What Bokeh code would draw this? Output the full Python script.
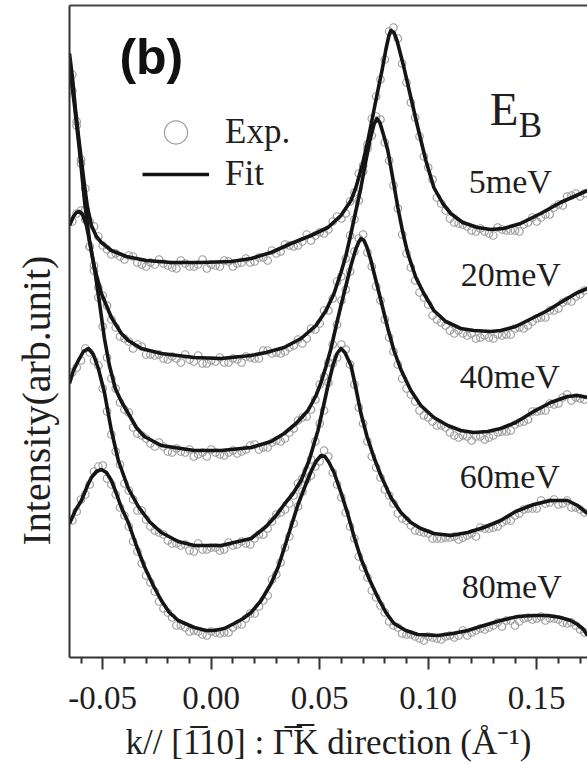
from bokeh.plotting import figure
from bokeh.models import Range1d, LinearAxis, FixedTicker, Label, Legend, LegendItem, Title
from bokeh.embed import file_html
from bokeh.resources import INLINE

# ---------------- data (k in 1/Angstrom, intensity in arb. units, curves already offset) -------------
energies = ["5meV", "20meV", "40meV", "60meV", "80meV"]

k_exp = [-0.064, -0.060, -0.056, -0.052, -0.048, -0.044, -0.040, -0.036, -0.032, -0.028,
         -0.024, -0.020, -0.016, -0.012, -0.008, -0.004, 0.000, 0.004, 0.008, 0.012,
         0.016, 0.020, 0.024, 0.028, 0.032, 0.036, 0.040, 0.044, 0.048, 0.052,
         0.056, 0.060, 0.064, 0.068, 0.072, 0.076, 0.080, 0.084, 0.088, 0.092,
         0.096, 0.100, 0.104, 0.108, 0.112, 0.116, 0.120, 0.124, 0.128, 0.132,
         0.136, 0.140, 0.144, 0.148, 0.152, 0.156, 0.160, 0.164, 0.168, 0.172]
k_exp_b = [-0.062, -0.058, -0.054, -0.050, -0.046, -0.042, -0.038, -0.034, -0.030, -0.026,
           -0.022, -0.018, -0.014, -0.010, -0.006, -0.002, 0.002, 0.006, 0.010, 0.014,
           0.018, 0.022, 0.026, 0.030, 0.034, 0.038, 0.042, 0.046, 0.050, 0.054,
           0.058, 0.062, 0.066, 0.070, 0.074, 0.078, 0.082, 0.086, 0.090, 0.094,
           0.098, 0.102, 0.106, 0.110, 0.114, 0.118, 0.122, 0.126, 0.130, 0.134,
           0.138, 0.142, 0.146, 0.150, 0.154, 0.158, 0.162, 0.166, 0.170]

exp_5 = [583, 498, 436, 421, 408, 404, 398, 401, 393, 395,
         398, 392, 389, 394, 391, 398, 393, 391, 396, 394,
         399, 396, 400, 407, 406, 412, 412, 423, 422, 424,
         436, 439, 456, 484, 513, 561, 598, 630, 594, 555,
         521, 490, 460, 447, 435, 433, 427, 429, 424, 430,
         427, 427, 433, 440, 440, 443, 453, 461, 464, 464]
exp_5_b = [536, 469, 431, 412, 403, 401, 402, 395, 391, 393,
           394, 390, 397, 391, 393, 389, 392, 397, 391, 395,
           395, 400, 397, 404, 413, 411, 416, 417, 425, 428,
           441, 444, 465, 492, 539, 578, 626, 619, 575, 540,
           501, 478, 454, 439, 434, 431, 426, 426, 422, 428,
           427, 426, 435, 436, 443, 450, 452, 462, 461]
exp_20 = [567, 494, 411, 370, 352, 330, 319, 309, 311, 303,
          303, 298, 299, 303, 296, 294, 297, 300, 295, 298,
          301, 299, 307, 304, 304, 310, 318, 319, 328, 347,
          359, 381, 422, 457, 509, 541, 515, 472, 423, 390,
          365, 353, 338, 332, 324, 324, 324, 320, 320, 323,
          323, 329, 329, 336, 340, 347, 349, 357, 361, 367]
exp_20_b = [532, 448, 392, 362, 338, 321, 316, 313, 303, 302,
            299, 301, 295, 298, 302, 294, 296, 295, 299, 295,
            300, 299, 307, 305, 306, 312, 314, 329, 334, 347,
            376, 399, 438, 486, 522, 538, 497, 449, 404, 377,
            360, 342, 335, 327, 327, 322, 319, 322, 319, 322,
            323, 330, 332, 339, 340, 347, 355, 356, 363]
exp_40 = [436, 447, 411, 360, 300, 269, 248, 230, 222, 214,
          215, 206, 209, 205, 201, 205, 208, 203, 205, 204,
          208, 213, 210, 215, 216, 225, 237, 241, 258, 281,
          313, 357, 386, 419, 405, 371, 338, 306, 279, 263,
          247, 240, 232, 230, 222, 222, 217, 221, 220, 225,
          226, 233, 236, 246, 247, 254, 254, 263, 260, 258]
exp_40_b = [444, 438, 387, 331, 279, 255, 245, 224, 219, 211,
            211, 205, 206, 208, 203, 201, 205, 202, 207, 206,
            212, 208, 210, 217, 219, 229, 240, 248, 273, 295,
            333, 368, 406, 423, 391, 357, 320, 293, 269, 256,
            242, 236, 232, 225, 220, 221, 221, 218, 222, 226,
            227, 235, 238, 246, 247, 253, 260, 257, 259]
exp_60 = [285, 297, 305, 292, 246, 206, 174, 158, 147, 131,
          125, 117, 114, 113, 106, 108, 110, 107, 115, 113,
          114, 119, 123, 136, 145, 154, 174, 187, 216, 247,
          294, 313, 293, 250, 216, 190, 168, 154, 139, 132,
          126, 124, 119, 120, 121, 120, 124, 130, 129, 131,
          137, 142, 148, 149, 157, 155, 153, 157, 150, 145]
exp_60_b = [290, 309, 297, 269, 223, 193, 167, 147, 138, 127,
            123, 114, 112, 107, 114, 108, 110, 108, 112, 116,
            113, 123, 129, 143, 148, 162, 179, 198, 234, 275,
            300, 308, 273, 234, 201, 180, 162, 144, 137, 127,
            125, 119, 119, 120, 118, 122, 121, 129, 130, 135,
            137, 144, 149, 149, 154, 158, 154, 150, 148]
exp_80 = [137, 158, 173, 191, 179, 163, 142, 116, 94, 75,
          56, 45, 32, 30, 27, 23, 26, 24, 25, 33,
          39, 44, 57, 78, 95, 121, 151, 178, 191, 207,
          185, 160, 131, 101, 80, 60, 45, 32, 24, 23,
          19, 21, 19, 21, 20, 27, 25, 29, 30, 35,
          37, 32, 39, 38, 41, 39, 38, 34, 32, 25]
exp_80_b = [146, 163, 186, 192, 173, 150, 131, 106, 82, 66,
            49, 40, 32, 26, 26, 22, 25, 25, 30, 33,
            44, 51, 62, 83, 110, 134, 166, 182, 196, 201,
            173, 145, 119, 90, 67, 52, 36, 30, 23, 21,
            17, 20, 18, 22, 22, 22, 27, 28, 32, 31,
            37, 36, 40, 39, 37, 39, 35, 35, 28]

fit_5_k = [-0.0653, -0.0639, -0.0626, -0.0612, -0.0598, -0.0584, -0.0570, -0.0552, -0.0529, -0.0506,
           -0.0460, -0.0391, -0.0299, -0.0184, -0.0046, 0.0092, 0.0184, 0.0276, 0.0368, 0.0460,
           0.0538, 0.0598, 0.0644, 0.0667, 0.0699, 0.0722, 0.0745, 0.0768, 0.0787, 0.0805,
           0.0819, 0.0828, 0.0842, 0.0856, 0.0874, 0.0888, 0.0920, 0.0952, 0.0989, 0.1026,
           0.1067, 0.1104, 0.1159, 0.1228, 0.1288, 0.1348, 0.1426, 0.1518, 0.1610, 0.1734]
fit_5_i = [604, 579, 549, 522, 497, 472, 450, 432, 421, 415,
           407, 401, 397, 395, 395, 396, 399, 405, 414, 422,
           430, 442, 457, 470, 495, 517, 542, 567, 587, 608,
           622, 627, 625, 617, 602, 590, 560, 530, 497, 470,
           454, 444, 435, 430, 428, 429, 434, 444, 455, 467]

fit_20_k = [-0.0653, -0.0630, -0.0607, -0.0584, -0.0561, -0.0538, -0.0506, -0.0460, -0.0414, -0.0382,
            -0.0322, -0.0230, -0.0078, 0.0046, 0.0184, 0.0253, 0.0336, 0.0414, 0.0483, 0.0529,
            0.0566, 0.0598, 0.0621, 0.0644, 0.0667, 0.0690, 0.0713, 0.0731, 0.0750, 0.0764,
            0.0777, 0.0791, 0.0814, 0.0837, 0.0860, 0.0883, 0.0906, 0.0943, 0.0980, 0.1026,
            0.1081, 0.1150, 0.1210, 0.1288, 0.1334, 0.1403, 0.1486, 0.1550, 0.1610, 0.1688, 0.1734]
fit_20_i = [592, 552, 507, 457, 417, 390, 364, 340, 324, 317,
            309, 304, 300, 299, 302, 305, 310, 319, 332, 347,
            364, 385, 402, 424, 447, 470, 497, 517, 533, 539,
            535, 525, 507, 479, 450, 425, 404, 380, 364, 347,
            336, 329, 327, 326, 327, 331, 340, 347, 355, 365, 369]

fit_40_k = [-0.0653, -0.0635, -0.0621, -0.0607, -0.0593, -0.0575, -0.0557, -0.0538, -0.0515, -0.0492,
            -0.0469, -0.0442, -0.0414, -0.0382, -0.0345, -0.0308, -0.0230, -0.0078, 0.0046, 0.0184,
            0.0276, 0.0336, 0.0391, 0.0446, 0.0483, 0.0506, 0.0529, 0.0552, 0.0575, 0.0598,
            0.0621, 0.0644, 0.0667, 0.0681, 0.0690, 0.0704, 0.0718, 0.0736, 0.0759, 0.0782,
            0.0814, 0.0842, 0.0874, 0.0920, 0.0966, 0.1026, 0.1090, 0.1150, 0.1210, 0.1274,
            0.1334, 0.1403, 0.1486, 0.1564, 0.1642, 0.1688, 0.1734]
fit_40_i = [432, 441, 445, 446, 443, 432, 412, 389, 355, 319,
            292, 269, 256, 244, 230, 221, 212, 207, 207, 210,
            216, 224, 234, 247, 262, 275, 291, 309, 331, 352,
            372, 392, 409, 416, 419, 417, 410, 397, 377, 357,
            329, 307, 288, 267, 252, 240, 232, 227, 225, 226,
            229, 235, 246, 255, 261, 262, 260]

fit_60_k = [-0.0653, -0.0635, -0.0612, -0.0589, -0.0566, -0.0543, -0.0520, -0.0492, -0.0460, -0.0428,
            -0.0382, -0.0336, -0.0285, -0.0230, -0.0152, -0.0078, 0.0046, 0.0184, 0.0253, 0.0299,
            0.0336, 0.0377, 0.0414, 0.0451, 0.0492, 0.0515, 0.0538, 0.0561, 0.0580, 0.0598,
            0.0616, 0.0644, 0.0667, 0.0690, 0.0718, 0.0750, 0.0782, 0.0828, 0.0874, 0.0920,
            0.0966, 0.1026, 0.1104, 0.1182, 0.1256, 0.1334, 0.1403, 0.1486, 0.1564, 0.1642,
            0.1688, 0.1734]
fit_60_i = [274, 287, 297, 306, 309, 303, 289, 265, 227, 197,
            169, 151, 136, 125, 116, 112, 112, 119, 131, 142,
            153, 164, 177, 197, 227, 249, 272, 292, 304, 309,
            305, 292, 269, 244, 221, 200, 182, 160, 145, 135,
            129, 124, 122, 125, 130, 137, 146, 153, 157, 157,
            152, 144]

fit_80_k = [-0.0653, -0.0626, -0.0598, -0.0570, -0.0552, -0.0529, -0.0506, -0.0483, -0.0460, -0.0437,
            -0.0414, -0.0382, -0.0345, -0.0308, -0.0267, -0.0230, -0.0193, -0.0152, -0.0078, -0.0023,
            0.0014, 0.0060, 0.0106, 0.0147, 0.0184, 0.0230, 0.0276, 0.0308, 0.0336, 0.0368,
            0.0400, 0.0432, 0.0460, 0.0483, 0.0506, 0.0524, 0.0543, 0.0566, 0.0598, 0.0630,
            0.0658, 0.0690, 0.0727, 0.0768, 0.0805, 0.0842, 0.0897, 0.0952, 0.1044, 0.1113,
            0.1182, 0.1256, 0.1334, 0.1412, 0.1486, 0.1550, 0.1610, 0.1656, 0.1688, 0.1716, 0.1734]
fit_80_i = [134, 147, 157, 172, 180, 186, 188, 185, 177, 164,
            150, 135, 112, 91, 72, 57, 45, 37, 30, 27,
            27, 29, 34, 39, 45, 57, 74, 90, 109, 131,
            153, 171, 186, 196, 202, 201, 195, 185, 165, 143,
            121, 99, 79, 60, 45, 34, 27, 23, 22, 24,
            27, 32, 37, 41, 42, 42, 40, 37, 33, 28, 22]

tick_values = [-0.05, 0.0, 0.05, 0.10, 0.15]
tick_labels = ["-0.05", "0.00", "0.05", "0.10", "0.15"]
minor_tick_values = [-0.06, -0.04, -0.03, -0.02, -0.01, 0.01, 0.02, 0.03, 0.04, 0.06, 0.07,
                     0.08, 0.09, 0.11, 0.12, 0.13, 0.14, 0.16, 0.17]

x_title = "k// [1\u030510] : \u0393\u0305K\u0305 direction (\u00c5\u207b\u00b9)"
y_title = "Intensity(arb.unit)"
panel_tag = "(b)"
legend_labels = ["Exp.", "Fit"]

exp_series = [(exp_5, exp_5_b), (exp_20, exp_20_b), (exp_40, exp_40_b),
              (exp_60, exp_60_b), (exp_80, exp_80_b)]
fit_series = [(fit_5_k, fit_5_i), (fit_20_k, fit_20_i), (fit_40_k, fit_40_i),
              (fit_60_k, fit_60_i), (fit_80_k, fit_80_i)]

# ---------------- figure ----------------
SERIF = "Liberation Serif"
INK = "#1e1e1e"

p = figure(width=587, height=765, x_range=Range1d(-0.0653, 0.1734), y_range=Range1d(0, 652),
           output_backend="svg", toolbar_location=None)
p.min_border_left = 69
p.min_border_right = 0
p.min_border_top = 5
p.min_border_bottom = 108
p.outline_line_color = None
p.grid.visible = False
p.background_fill_color = "white"
p.border_fill_color = "white"

xa = p.xaxis[0]
xa.ticker = FixedTicker(ticks=tick_values, minor_ticks=minor_tick_values)
xa.major_label_overrides = {v: s for v, s in zip(tick_values, tick_labels)}
xa.major_label_text_font = SERIF
xa.major_label_text_font_size = "33px"
xa.major_label_text_color = INK
xa.major_label_standoff = 17
xa.major_tick_out = 12
xa.major_tick_in = 0
xa.minor_tick_out = 6
xa.minor_tick_in = 0
xa.major_tick_line_width = 2
xa.minor_tick_line_width = 2
xa.major_tick_line_color = "#333333"
xa.minor_tick_line_color = "#333333"
xa.axis_line_color = "#333333"
xa.axis_line_width = 2
xa.axis_label = x_title
xa.axis_label_text_font = SERIF
xa.axis_label_text_font_size = "35px"
xa.axis_label_text_font_style = "normal"
xa.axis_label_text_color = INK
xa.axis_label_standoff = 11

ya = p.yaxis[0]
ya.ticker = FixedTicker(ticks=[])
ya.major_label_text_font_size = "0px"
ya.major_label_standoff = 0
ya.major_tick_out = 0
ya.major_tick_in = 0
ya.minor_tick_out = 0
ya.minor_tick_in = 0
ya.axis_line_color = "#333333"
ya.axis_line_width = 2

top = LinearAxis(ticker=FixedTicker(ticks=[]), major_label_text_font_size="0px",
                 major_label_standoff=0, major_tick_out=0, major_tick_in=0,
                 minor_tick_out=0, minor_tick_in=0,
                 axis_line_color="#444444", axis_line_width=2)
p.add_layout(top, "above")

p.add_layout(Title(text=y_title, align="left", offset=112, standoff=21,
                   text_font=SERIF, text_font_size="40px", text_font_style="normal",
                   text_color=INK), "left")

exp_renderers = []
for vals_a, vals_b in exp_series:
    for kk, vals in ((k_exp, vals_a), (k_exp_b, vals_b)):
        r = p.scatter(kk, vals, marker="circle", size=7.5, fill_alpha=0,
                      line_color="#9c9c9c", line_width=1.2)
        exp_renderers.append(r)

fit_renderers = []
for kk, ii in fit_series:
    r = p.line(kk, ii, line_color="#151515", line_width=3.6, line_join="round")
    fit_renderers.append(r)

legend_style = dict(padding=0, margin=0, border_line_color=None, background_fill_alpha=0,
                    label_text_font=SERIF, label_text_font_size="35px", label_text_color=INK,
                    label_standoff=16, glyph_width=67)
legend_exp = Legend(items=[LegendItem(label=legend_labels[0], renderers=[exp_renderers[0]])],
                    location=(73, 496), glyph_height=58, **legend_style)
legend_fit = Legend(items=[LegendItem(label=legend_labels[1], renderers=[fit_renderers[0]])],
                    location=(73, 462), glyph_height=42, **legend_style)
p.add_layout(legend_exp)
p.add_layout(legend_fit)

# panel tag
p.add_layout(Label(x=-0.0423, y=601, text=panel_tag, text_font="Liberation Sans",
                   text_font_style="bold", text_font_size="50px", text_color="#111111",
                   text_baseline="alphabetic", text_align="left"))

# E_B header
p.add_layout(Label(x=0.1283, y=549, text="E", text_font=SERIF, text_font_size="47px",
                   text_color=INK, text_baseline="alphabetic", text_align="left"))
p.add_layout(Label(x=0.1417, y=532, text="B", text_font=SERIF, text_font_size="35px",
                   text_color=INK, text_baseline="alphabetic", text_align="left"))

label_pos = [(0.1187, 476), (0.1150, 383), (0.1145, 281), (0.1145, 181), (0.1154, 71)]
for (lx, ly), txt in zip(label_pos, energies):
    p.add_layout(Label(x=lx, y=ly, text=txt, text_font=SERIF, text_font_size="34px",
                       text_color=INK, text_baseline="alphabetic", text_align="left"))

open("out.html", "w").write(file_html(p, INLINE))
